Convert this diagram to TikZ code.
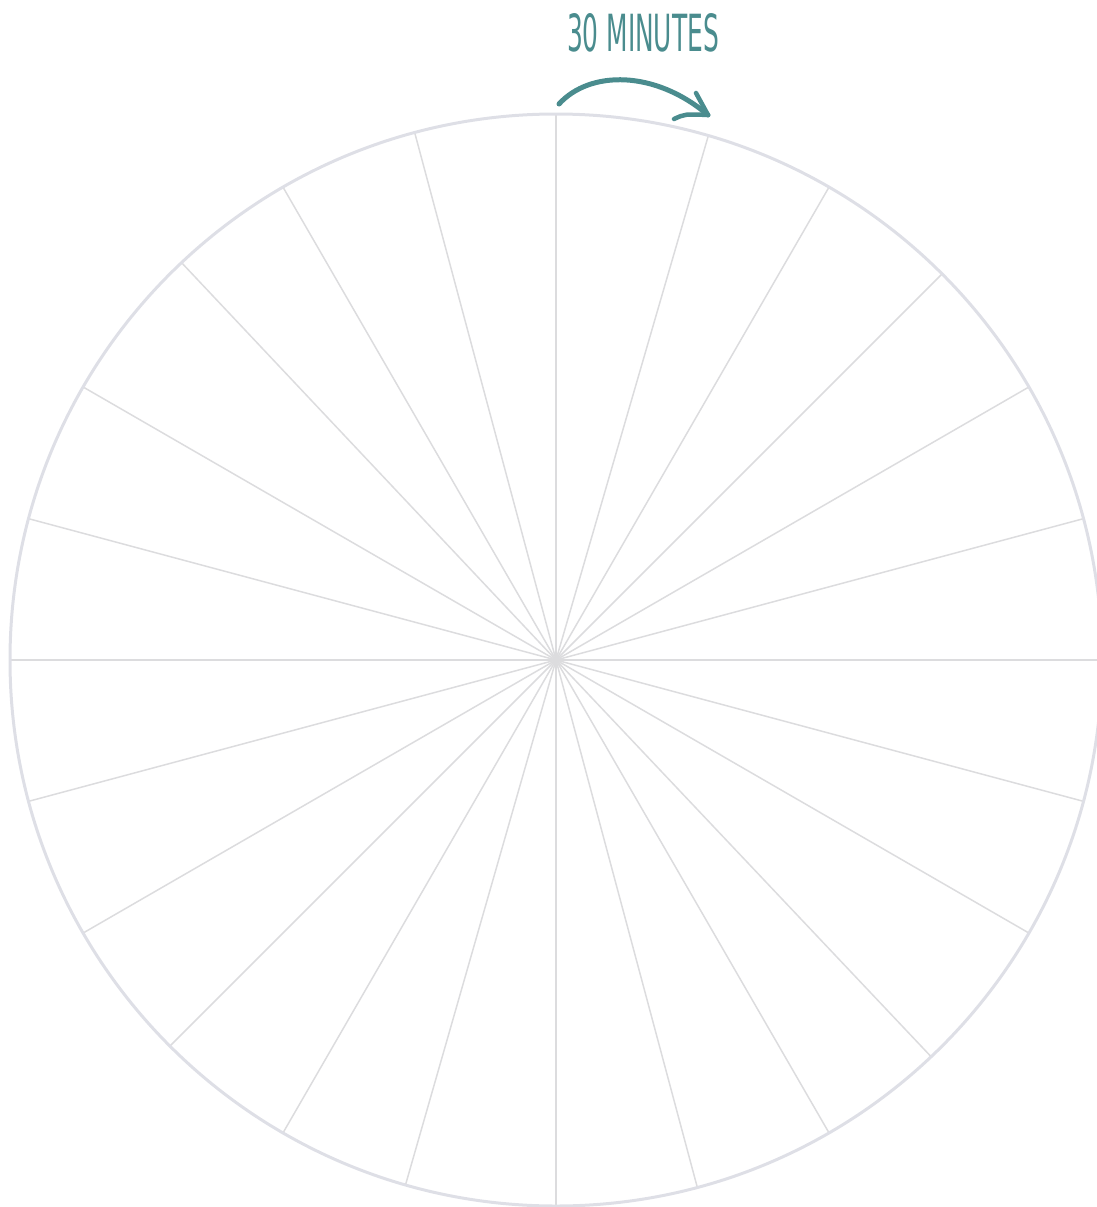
\documentclass[tikz,border=0pt]{standalone}
\usepackage{fontspec}
\usepackage{graphicx}
\usepackage{tikz}
\newfontfamily\capfont{DejaVu Sans Condensed}
\definecolor{rimgray}{HTML}{DEDFE6}
\definecolor{spokegray}{HTML}{DCDCDE}
\definecolor{teal}{HTML}{4A8C8E}

\begin{document}
\begin{tikzpicture}[x=1pt, y=-1pt]
  \useasboundingbox (0, 0) rectangle (1097, 1207);
  \coordinate (hub) at (556, 660);
  % spokes, about every 15 degrees
  \foreach \a in {-90, -73.8, -60, -45, -30, -15, 0, 15, 30, 46.6, 60, 75,
                  90, 106, 120, 135, 150, 165, 180, -165, -150, -133.3, -120, -105}
    \draw[spokegray, line width=1.5pt] (hub) -- ++(\a:546);
  \draw[rimgray, line width=3pt] (hub) circle[radius=546];
  % label and arrow
  \node[teal, inner sep=0pt] (label) at (643, 33)
    {\resizebox{152pt}{38pt}{\capfont\mdseries 30 MINUTES}};
  \coordinate (start) at (559, 104);
  \coordinate (tip) at (708, 115);
  \draw[teal, line width=5pt, line cap=round]
    (start) .. controls (590, 70) and (655, 70) .. (tip);
  \draw[teal, line width=4.5pt, line cap=round] (696, 93) -- (tip);
  \draw[teal, line width=4.5pt, line cap=round] (674, 119) .. controls (685, 114) .. (tip);
\end{tikzpicture}
\end{document}
